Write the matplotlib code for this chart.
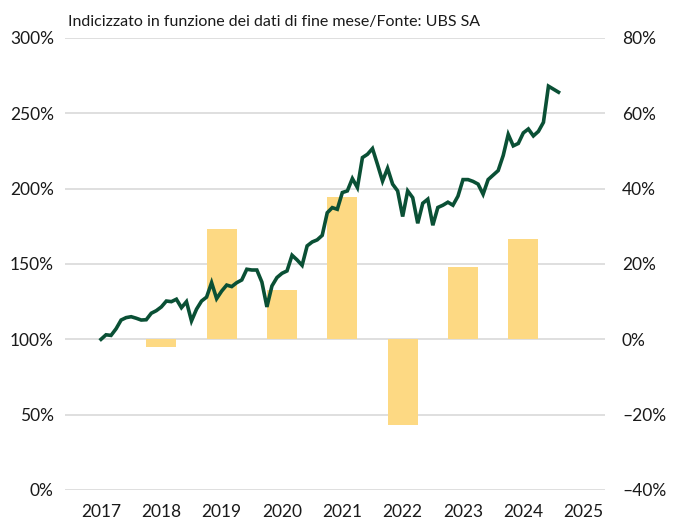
import numpy as np
import matplotlib
matplotlib.use('Agg')
import matplotlib.pyplot as plt

plt.rcParams['font.family'] = ['Lato', 'DejaVu Sans']

# Rendimento annuo (asse destro, %)
anni_barre = [2018, 2019, 2020, 2021, 2022, 2023, 2024]
rendimento_annuo = [-2.0, 29.4, 13.0, 37.9, -22.8, 19.1, 26.5]

# Indice mensile (asse sinistro, %), gen 2017 - ago 2024
indice = [100, 103, 102.6, 107, 112.8, 114.4, 115, 114, 112.8, 113, 117.3, 119,
          121.5, 125.4, 125, 126.6, 121, 125, 112.2, 120, 125.4, 128, 137.6, 127,
          132, 136, 135, 137.6, 139.4, 146.5, 146, 146, 138, 121.5, 135.4, 141,
          143.8, 145.4, 155.8, 152.7, 149.1, 162, 164.6, 166, 169, 184, 187.4, 186.3,
          197.4, 198.5, 206.7, 200.7, 220.6, 222.8, 226.6, 216, 205, 213.5, 203, 198.5,
          181.5, 198.5, 194, 177, 190.3, 193, 175.7, 187.5, 189, 191, 189, 195,
          206, 206, 204.8, 203, 196.3, 206, 209, 212, 222, 236, 228.4, 230,
          237, 239.6, 235, 238, 244, 268, 266, 264]
tempo = 2017 + np.arange(len(indice)) / 12

anni_tick = list(range(2017, 2026))
tick_sx = [0, 50, 100, 150, 200, 250, 300]
tick_dx = [-40, -20, 0, 20, 40, 60, 80]
etichette_dx = ['–40%', '–20%', '0%', '20%', '40%', '60%', '80%']

colore_linea = '#0a5035'
colore_barre = '#fdd983'
colore_griglia = '#d9d9d9'
colore_testo = '#1a1a1a'

fig = plt.figure(figsize=(6.74, 5.2), dpi=100)
ax_barre = fig.add_axes([0.0964, 0.0577, 0.8016, 0.8693])
ax = ax_barre.twinx()

# barre sull'asse destro
ax_barre.bar(anni_barre, rendimento_annuo, width=0.5, color=colore_barre, zorder=2)
ax_barre.set_ylim(-40, 80)
ax_barre.set_yticks(tick_dx)
ax_barre.set_yticklabels(etichette_dx)
ax_barre.yaxis.tick_right()
ax_barre.grid(axis='y', color=colore_griglia, linewidth=1.2, zorder=0)
ax_barre.set_axisbelow(True)

# linea sull'asse sinistro
ax.plot(tempo, indice, color=colore_linea, linewidth=2.6, solid_joinstyle='miter', zorder=3)
ax.set_ylim(0, 300)
ax.set_yticks(tick_sx)
ax.set_yticklabels([f'{v}%' for v in tick_sx])
ax.yaxis.tick_left()

ax.set_zorder(ax_barre.get_zorder() + 1)
ax.patch.set_visible(False)

ax_barre.set_xlim(2016.403, 2025.358)
ax_barre.set_xticks(anni_tick)
ax_barre.set_xticklabels([str(a) for a in anni_tick])

for a in (ax, ax_barre):
    for s in a.spines.values():
        s.set_visible(False)
    a.tick_params(length=0, labelsize=12.5, colors=colore_testo)
ax_barre.tick_params(axis='y', pad=12)
ax.tick_params(axis='y', pad=8)
ax_barre.tick_params(axis='x', pad=10)

fig.text(0.101, 0.958, 'Indicizzato in funzione dei dati di fine mese/Fonte: UBS SA',
         fontsize=11.5, color=colore_testo, va='center', ha='left')

fig.savefig('out.png', dpi=100)
